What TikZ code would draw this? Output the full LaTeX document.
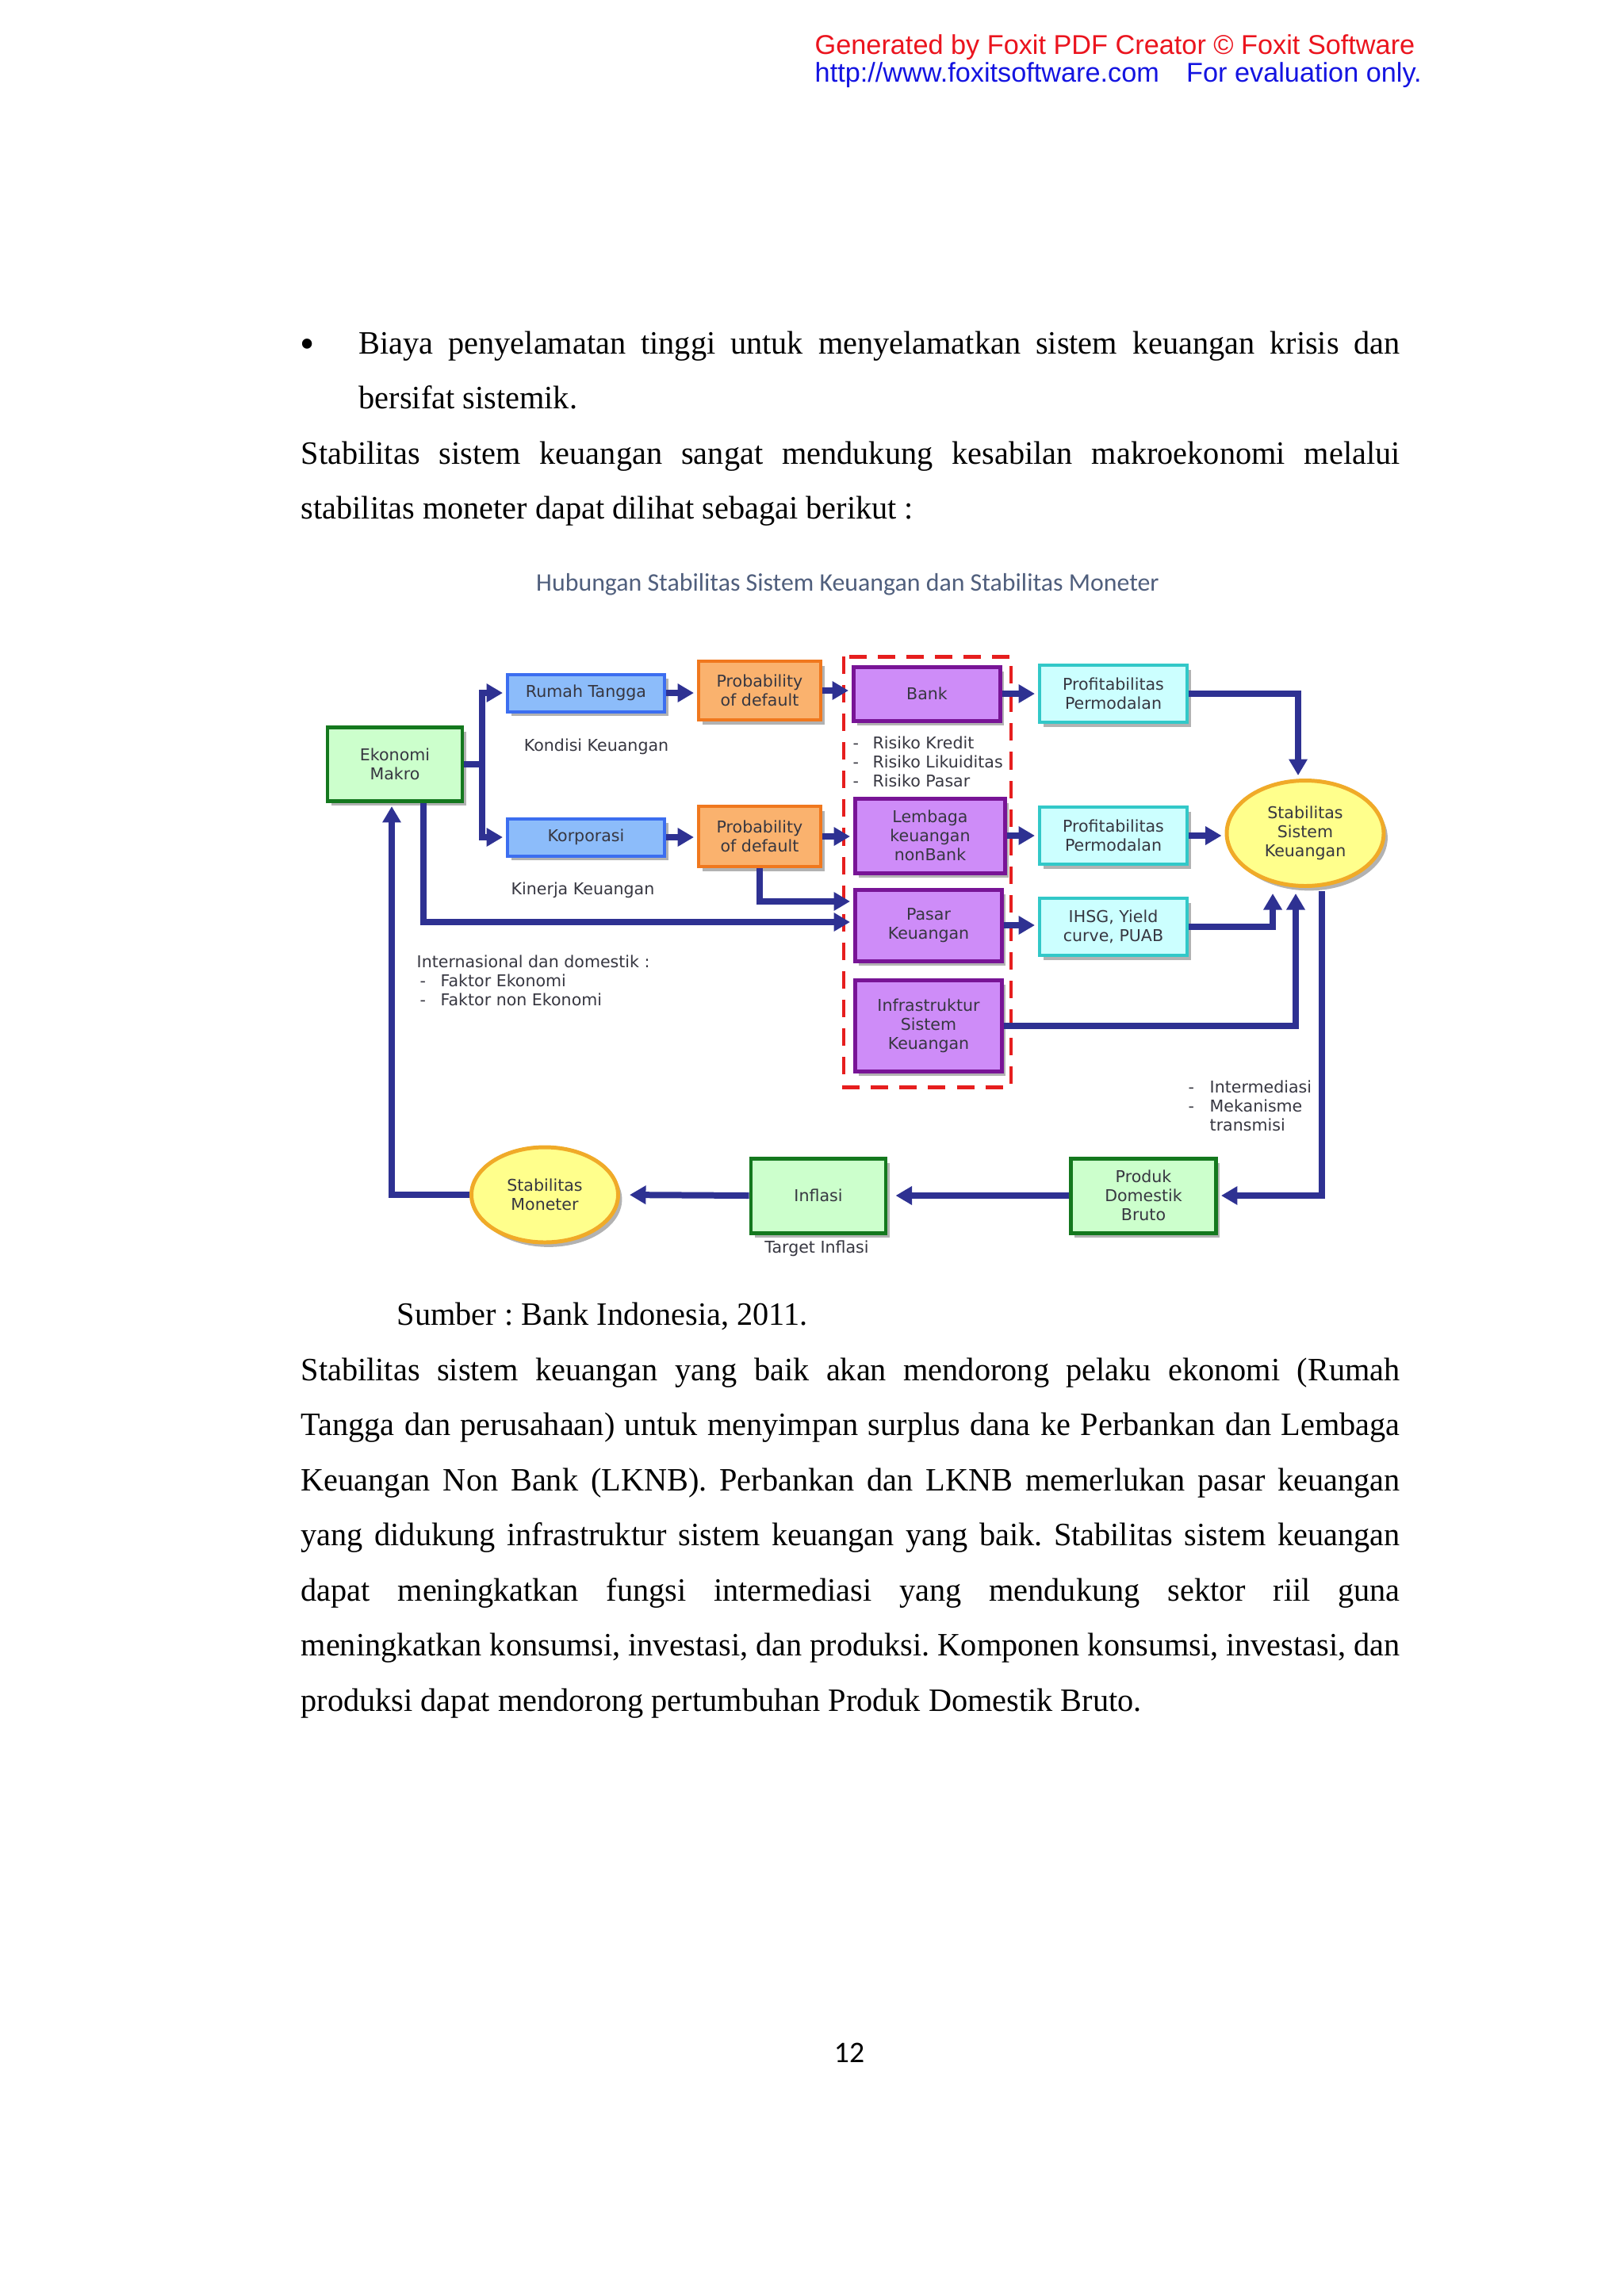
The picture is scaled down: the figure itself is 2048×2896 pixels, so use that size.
\documentclass[tikz,border=0pt]{standalone}
\usepackage{fontspec}
\setmainfont{Liberation Serif}[FakeStretch=0.98]
\newfontfamily\diafont{DejaVu Sans}
\newfontfamily\hdrfont{Liberation Sans}
\newfontfamily\calfont{Carlito}
\usetikzlibrary{arrows.meta,shadows,shapes.geometric}
\newdimen\px \px=0.10255mm
\definecolor{arrowc}{RGB}{46,49,146}
\definecolor{gfill}{RGB}{204,255,204}
\definecolor{gdraw}{RGB}{20,120,30}
\definecolor{bfill}{RGB}{140,188,250}
\definecolor{bdraw}{RGB}{60,110,240}
\definecolor{ofill}{RGB}{250,178,110}
\definecolor{odraw}{RGB}{240,120,30}
\definecolor{pfill}{RGB}{206,140,248}
\definecolor{pdraw}{RGB}{120,20,150}
\definecolor{cfill}{RGB}{204,255,255}
\definecolor{cdraw}{RGB}{50,200,200}
\definecolor{yfill}{RGB}{255,255,140}
\definecolor{ydraw}{RGB}{240,170,40}
\definecolor{txt}{RGB}{55,55,65}
\definecolor{titlec}{RGB}{80,95,125}
\definecolor{redframe}{RGB}{230,30,30}
\definecolor{hdrred}{RGB}{235,20,30}
\definecolor{hdrblue}{RGB}{20,20,225}
\frenchspacing
\begin{document}
\begin{tikzpicture}[x=0.10255mm,y=-0.10255mm,
  dfont/.style={font=\diafont\fontsize{6}{7}\selectfont, text=txt},
  box/.style={dfont, draw, line width=0.51mm, align=center, inner sep=0pt,
    drop shadow={shadow xshift=0.5mm, shadow yshift=-0.6mm, fill=black, opacity=0.3}},
  greenbox/.style={box, fill=gfill, draw=gdraw},
  bluebox/.style={box, fill=bfill, draw=bdraw, line width=0.41mm},
  orangebox/.style={box, fill=ofill, draw=odraw, line width=0.41mm},
  purplebox/.style={box, fill=pfill, draw=pdraw},
  cyanbox/.style={box, fill=cfill, draw=cdraw, line width=0.41mm},
  ellbox/.style={box, ellipse, fill=yfill, draw=ydraw},
  lbl/.style={dfont, inner sep=0pt, align=left},
  arr/.style={draw=arrowc, line width=0.82mm, -{Triangle[width=2.3mm,length=2.1mm]}, shorten >=0.41mm},
  plainline/.style={draw=arrowc, line width=0.82mm},
  body/.style={font=\fontsize{12}{14}\selectfont, inner sep=0pt, anchor=base west}
]
\useasboundingbox (0,0) rectangle (2048,2896);
\fill[white] (0,0) rectangle (2048,2896);

% header
\node[font=\hdrfont\fontsize{10}{12}\selectfont, text=hdrred, anchor=base west, inner sep=0pt] (h1) at (1027,68) {Generated by Foxit PDF Creator © Foxit Software};
\node[font=\hdrfont\fontsize{10}{12}\selectfont, text=hdrblue, anchor=base west, inner sep=0pt] (h2) at (1027,103) {http://www.foxitsoftware.com\hspace{10pt}For evaluation only.};

% body text before
\node[font=\fontsize{15.5}{17}\selectfont, inner sep=0pt, anchor=base] (bul) at (388,451) {\textbullet};
\node[body] (l1) at (452,446) {\makebox[1313\px][s]{Biaya penyelamatan tinggi untuk menyelamatkan sistem keuangan krisis dan}};
\node[body] (l2) at (452,515) {bersifat sistemik.};
\node[body] (l3) at (379,585) {\makebox[1386\px][s]{Stabilitas sistem keuangan sangat mendukung kesabilan makroekonomi melalui}};
\node[body] (l4) at (379,654) {stabilitas moneter dapat dilihat sebagai berikut :};

% title
\node[font=\calfont\fontsize{9.3}{11}\selectfont, text=titlec, anchor=base, inner sep=0pt] (title) at (1069,745) {Hubungan Stabilitas Sistem Keuangan dan Stabilitas Moneter};

% red dashed frame
\draw[redframe, line width=0.51mm, dash pattern=on 2.26mm off 1.44mm] (1064,828) rectangle (1275,1371);

% nodes
\node[greenbox, minimum width=170\px, minimum height=93\px] (ek) at (498,964) {Ekonomi\\Makro};
\node[bluebox, minimum width=198\px, minimum height=47\px] (rt) at (739,874) {Rumah Tangga};
\node[bluebox, minimum width=198\px, minimum height=47\px] (kp) at (739,1056) {Korporasi};
\node[orangebox, minimum width=154\px, minimum height=74\px] (pd1) at (958,871) {Probability\\of default};
\node[orangebox, minimum width=154\px, minimum height=76\px] (pd2) at (958,1055) {Probability\\of default};
\node[purplebox, minimum width=185\px, minimum height=68\px] (bank) at (1169,875) {Bank};
\node[purplebox, minimum width=189\px, minimum height=94\px] (lkn) at (1173,1054) {Lembaga\\keuangan\\nonBank};
\node[purplebox, minimum width=185\px, minimum height=90\px] (pk) at (1171,1167) {Pasar\\Keuangan};
\node[purplebox, minimum width=185\px, minimum height=115\px] (isk) at (1171,1294) {Infrastruktur\\Sistem\\Keuangan};
\node[cyanbox, minimum width=186\px, minimum height=72\px] (pf1) at (1404,875) {Profitabilitas\\Permodalan};
\node[cyanbox, minimum width=186\px, minimum height=72\px] (pf2) at (1404,1054) {Profitabilitas\\Permodalan};
\node[cyanbox, minimum width=186\px, minimum height=72\px] (ih) at (1404,1169) {IHSG, Yield\\curve, PUAB};
\node[ellbox, minimum width=198\px, minimum height=133\px] (ssk) at (1646,1051) {Stabilitas\\Sistem\\Keuangan};
\node[greenbox, minimum width=183\px, minimum height=94\px] (pdb) at (1442,1508) {Produk\\Domestik\\Bruto};
\node[greenbox, minimum width=170\px, minimum height=94\px] (ifl) at (1032,1508) {Inflasi};
\node[ellbox, minimum width=185\px, minimum height=120\px] (sm) at (687,1507) {Stabilitas\\Moneter};

% labels
\node[lbl] (kk) at (752,942) {Kondisi Keuangan};
\node[lbl] (kj) at (735,1123) {Kinerja Keuangan};
\node[lbl, anchor=west] (intl) at (525,1237) {Internasional dan domestik :\\\hspace*{4\px}\makebox[26\px][l]{-}Faktor Ekonomi\\\hspace*{4\px}\makebox[26\px][l]{-}Faktor non Ekonomi};
\node[lbl, anchor=west] (risk) at (1075,961) {\makebox[25\px][l]{-}Risiko Kredit\\\makebox[25\px][l]{-}Risiko Likuiditas\\\makebox[25\px][l]{-}Risiko Pasar};
\node[lbl, anchor=west] (trans) at (1498,1395) {\makebox[27\px][l]{-}Intermediasi\\\makebox[27\px][l]{-}Mekanisme\\\hspace*{27\px}transmisi};
\node[lbl] (ti) at (1030,1575) {Target Inflasi};

% connectors
\coordinate (j1) at (608,964);
\draw[plainline] (ek.east) -- (j1);
\draw[arr] (j1) |- (rt.west);
\draw[arr] (j1) |- (kp.west);
\draw[arr] (rt.east) -- (rt.east -| pd1.west);
\draw[arr] (kp.east) -- (kp.east -| pd2.west);
\draw[arr] (pd1.east) -- (pd1.east -| bank.west);
\draw[arr] (pd2.east) -- (pd2.east -| lkn.west);
\draw[arr] (pd2.south) |- ([yshift=3.08mm]pk.west);
\draw[arr] ([xshift=3.69mm]ek.south) |- ([yshift=0.41mm]pk.west);
\draw[arr] (bank.east) -- (bank.east -| pf1.west);
\draw[arr] (lkn.east) -- (lkn.east -| pf2.west);
\draw[arr] (pk.east) -- (pk.east -| ih.west);
\draw[arr] (pf1.east) -| ([xshift=-0.92mm]ssk.north);
\draw[arr] (pf2.east) -- (pf2.east -| ssk.west);
\coordinate (e1) at ([xshift=-4.2mm,yshift=-0.72mm]ssk.south);
\coordinate (e2) at ([xshift=-1.23mm,yshift=-0.72mm]ssk.south);
\draw[arr, shorten >=0pt] (ih.east) -| (e1);
\draw[arr, shorten >=0pt] (isk.east) -| (e2);
\draw[arr] ([xshift=2.15mm,yshift=-0.41mm]ssk.south) |- (pdb.east);
\draw[arr, shorten >=1.03mm] (pdb.west) -- (ifl.east);
\draw[arr, shorten >=1.23mm] (ifl.west) -- (sm.east);
\draw[arr] (sm.west) -| ([xshift=-0.41mm]ek.south);

% body text after
\node[body] (src) at (500,1671) {Sumber : Bank Indonesia, 2011.};
\node[body] (p1) at (379,1741) {\makebox[1386\px][s]{Stabilitas sistem keuangan yang baik akan mendorong pelaku ekonomi (Rumah}};
\node[body] (p2) at (379,1810) {\makebox[1386\px][s]{Tangga dan perusahaan) untuk menyimpan surplus dana ke Perbankan dan Lembaga}};
\node[body] (p3) at (379,1880) {\makebox[1386\px][s]{Keuangan Non Bank (LKNB). Perbankan dan LKNB memerlukan pasar keuangan}};
\node[body] (p4) at (379,1949) {\makebox[1386\px][s]{yang didukung infrastruktur sistem keuangan yang baik. Stabilitas sistem keuangan}};
\node[body] (p5) at (379,2019) {\makebox[1386\px][s]{dapat meningkatkan fungsi intermediasi yang mendukung sektor riil guna}};
\node[body] (p6) at (379,2088) {\makebox[1386\px][s]{meningkatkan konsumsi, investasi, dan produksi. Komponen konsumsi, investasi, dan}};
\node[body] (p7) at (379,2158) {produksi dapat mendorong pertumbuhan Produk Domestik Bruto.};

% page number
\node[font=\calfont\fontsize{11}{13}\selectfont, anchor=base, inner sep=0pt] (pg) at (1071,2601) {12};
\end{tikzpicture}
\end{document}
